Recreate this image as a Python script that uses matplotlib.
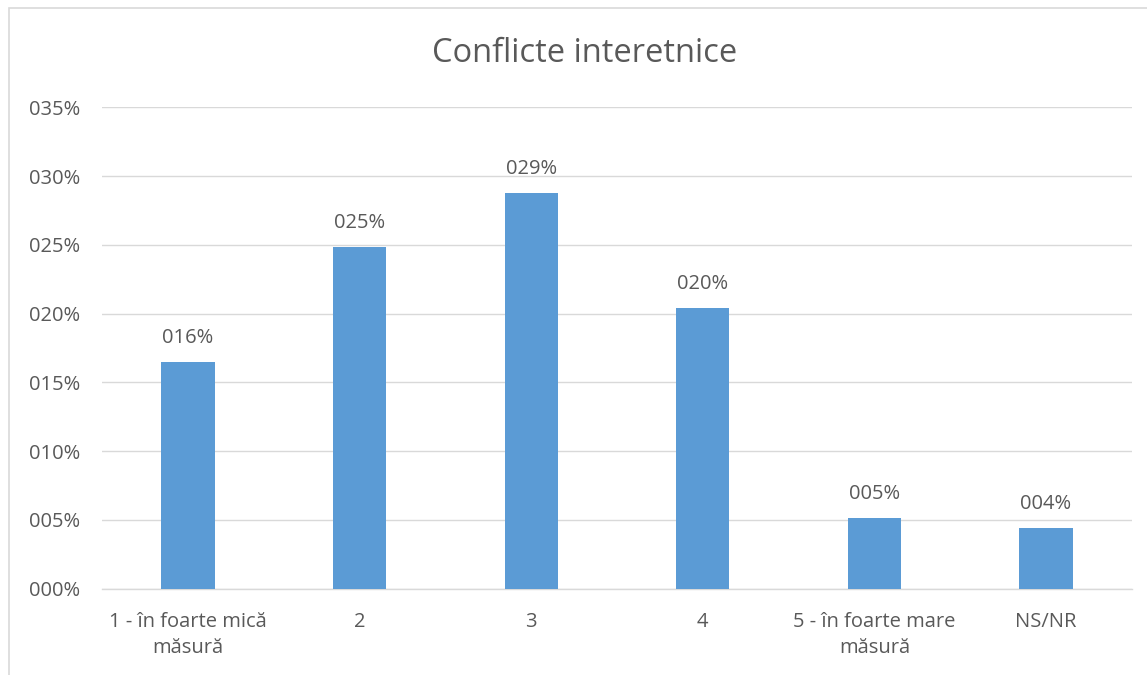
import matplotlib
matplotlib.use("Agg")
import matplotlib.pyplot as plt
from matplotlib.patches import Rectangle

categories = ["1 - în foarte mică\nmăsură", "2", "3", "4", "5 - în foarte mare\nmăsură", "NS/NR"]
values = [16.46, 24.87, 28.8, 20.4, 5.17, 4.4]
y_ticks = [0, 5, 10, 15, 20, 25, 30, 35]
title = "Conflicte interetnice"

text_color = "#595959"
bar_color = "#5B9BD5"
grid_color = "#D9D9D9"

plt.rcParams["font.family"] = ["Open Sans", "DejaVu Sans"]

W, H = 1147, 675
fig = plt.figure(figsize=(W / 100, H / 100), dpi=100)

# chart frame (extends past the right and bottom edges)
fig.patches.append(Rectangle((8.5 / W, -0.1), 1.2, 1.1 - 8.5 / H,
                             transform=fig.transFigure, fill=False,
                             edgecolor=grid_color, linewidth=1.2))

ax = fig.add_axes([102.2 / W, 1 - 588.7 / H, (1131.8 - 102.2) / W, (588.7 - 107.3) / H])

x = list(range(len(categories)))
bars = ax.bar(x, values, width=0.31, color=bar_color, zorder=3)

for rect, v in zip(bars, values):
    ax.annotate(f"{round(v):03d}%", (rect.get_x() + rect.get_width() / 2, v),
                xytext=(0, 10), textcoords="offset points",
                ha="center", va="bottom", fontsize=14.5, color=text_color)

ax.set_xlim(-0.5, len(categories) - 0.5)
ax.set_ylim(0, 35)
ax.set_yticks(y_ticks)
ax.set_yticklabels([f"{t:03d}%" for t in y_ticks])
ax.set_xticks(x)
ax.set_xticklabels(categories, linespacing=1.45)

ax.tick_params(axis="both", length=0, colors=text_color, labelsize=14.5)
ax.tick_params(axis="y", pad=16)
ax.tick_params(axis="x", pad=16.5)
ax.yaxis.grid(True, color=grid_color, linewidth=1.0, zorder=0)
for s in ["top", "right", "left"]:
    ax.spines[s].set_visible(False)
ax.spines["bottom"].set_color(grid_color)
ax.spines["bottom"].set_linewidth(1.0)

fig.text(585 / W, 1 - 53 / H, title, ha="center", va="center",
         fontsize=23.5, color=text_color)

fig.savefig("out.png", dpi=100, facecolor="white")
